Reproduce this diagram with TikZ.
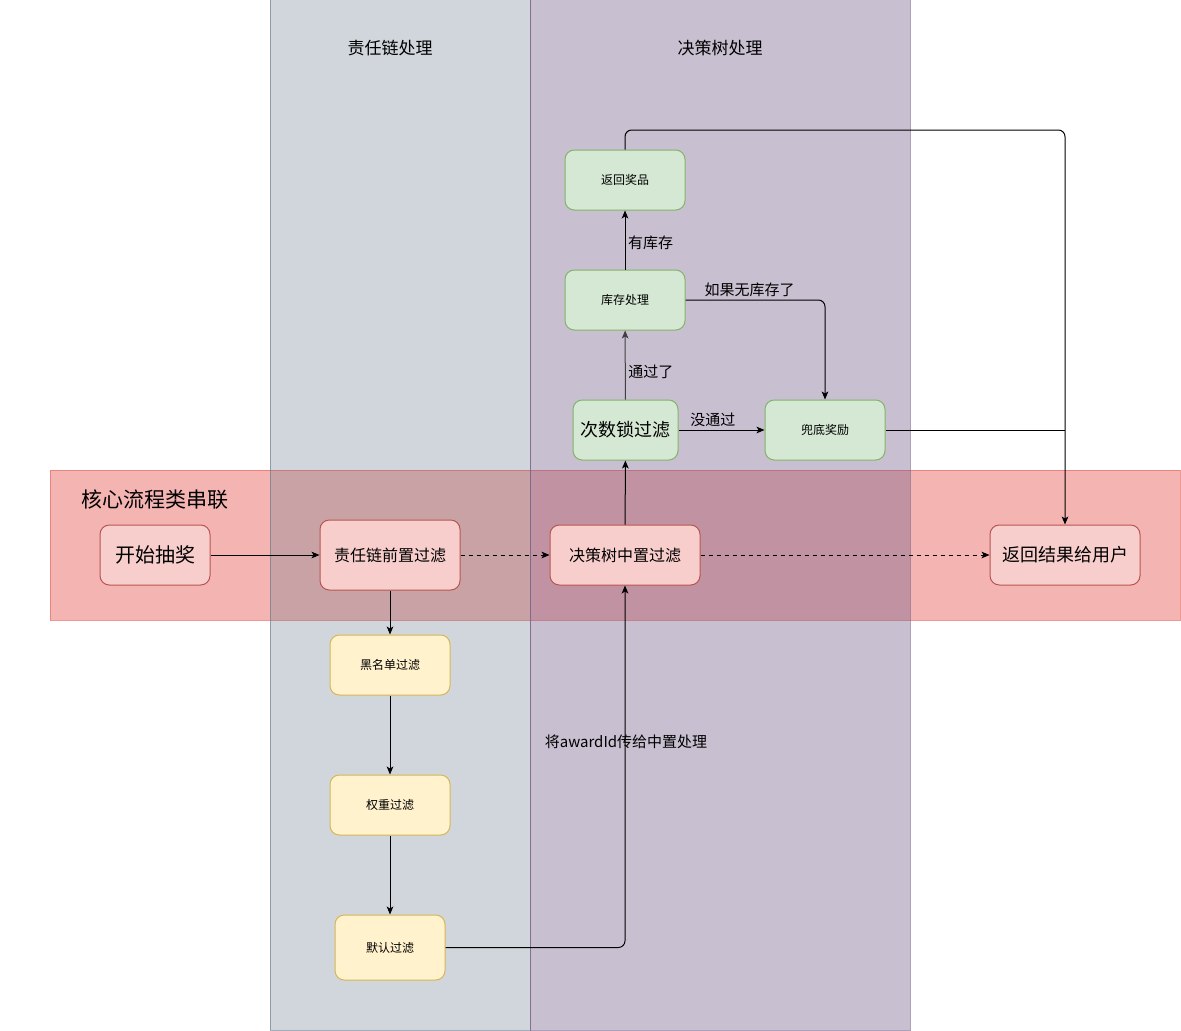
\documentclass[tikz,border=0pt]{standalone}
\usepackage{fontspec}
\setmainfont{Noto Sans CJK SC}
\usepackage{tikz}
\usetikzlibrary{shapes,arrows,arrows.meta,positioning}
\definecolor{LaneChain}{HTML}{647687}
\definecolor{LaneTree}{HTML}{76608A}
\definecolor{BandRed}{HTML}{EA6B66}
\definecolor{RedFill}{HTML}{F8CECC}
\definecolor{RedLine}{HTML}{B85450}
\definecolor{YellowFill}{HTML}{FFF2CC}
\definecolor{YellowLine}{HTML}{D6B656}
\definecolor{GreenFill}{HTML}{D5E8D4}
\definecolor{GreenLine}{HTML}{82B366}
\newcommand{\fsz}[1]{\fontsize{#1}{#1}\selectfont}

\begin{document}
\begin{tikzpicture}[
    x=0.75pt, y=-0.75pt,
    box/.style={rectangle, rounded corners=7pt, line width=0.75pt, align=center, inner sep=0pt},
    redbox/.style={box, fill=RedFill, draw=RedLine},
    yellowbox/.style={box, fill=YellowFill, draw=YellowLine, minimum width=90pt, minimum height=45pt, font=\fsz{9pt}},
    greenbox/.style={box, fill=GreenFill, draw=GreenLine, minimum width=90pt, minimum height=45pt, font=\fsz{9pt}},
    arrow/.style={-{Stealth[length=6pt, width=5pt, inset=1.5pt]}, line width=0.75pt},
    label/.style={font=\fsz{11.25pt}, inner sep=2pt}
]
\useasboundingbox (0,0) rectangle (1181,1031);

% === LANES ===
\filldraw[fill=BandRed, draw=BandRed, fill opacity=0.5, draw opacity=0.7, line width=0.75pt] (50,470) rectangle (1180,620);
\filldraw[fill=LaneChain, draw=LaneChain, fill opacity=0.3, draw opacity=0.6, line width=0.75pt] (270,0) rectangle (530,1030);
\filldraw[fill=LaneTree, draw=LaneTree, fill opacity=0.4, draw opacity=0.6, line width=0.75pt] (530,0) rectangle (910,1030);

\node[font=\fsz{12.75pt}] (chainTitle) at (390,48) {责任链处理};
\node[font=\fsz{12.75pt}] (treeTitle) at (720,48) {决策树处理};
\node[font=\fsz{15.75pt}] (bandTitle) at (155,500) {核心流程类串联};

% === MAIN FLOW ===
\node[redbox, minimum width=82.5pt, minimum height=45pt, font=\fsz{15pt}] (start) at (155,555) {开始抽奖};
\node[redbox, minimum width=105pt, minimum height=52.5pt, font=\fsz{12pt}] (chainPre) at (390,555) {责任链前置过滤};
\node[redbox, minimum width=112.5pt, minimum height=45pt, font=\fsz{12pt}] (treeMid) at (625,555) {决策树中置过滤};
\node[redbox, minimum width=112.5pt, minimum height=45pt, font=\fsz{13.5pt}] (result) at (1065,555) {返回结果给用户};

\draw[arrow] (start) -- (chainPre);
\draw[arrow, dashed] (chainPre) -- (treeMid);
\draw[arrow, dashed] (treeMid) -- (result);

% === CHAIN ===
\node[yellowbox] (black) at (390,665) {黑名单过滤};
\node[yellowbox] (weight) at (390,805) {权重过滤};
\node[yellowbox, minimum width=82.5pt, minimum height=48.75pt] (default) at (390,947.5) {默认过滤};

\draw[arrow] (chainPre) -- (black);
\draw[arrow] (black) -- (weight);
\draw[arrow] (weight) -- (default);
\draw[arrow, rounded corners=5pt] (default.east) -| (treeMid.south);
\node[label, inner sep=0pt] (passAward) at (626,742) {将awardId传给中置处理};

% === TREE ===
\node[greenbox, minimum width=78.75pt, font=\fsz{13.5pt}] (lock) at (625.5,430) {次数锁过滤};
\node[greenbox] (fallback) at (825,430) {兜底奖励};
\node[greenbox] (stock) at (625,300) {库存处理};
\node[greenbox] (award) at (625,180) {返回奖品};
\coordinate (turn) at (1065,130);

\draw[arrow] (treeMid) -- (lock);
\draw[arrow, black!75] (lock) -- node[label, right, pos=0.4, black] {通过了} (stock);
\draw[arrow] (lock) -- node[label, above, pos=0.4] {没通过} (fallback);
\draw[arrow] (stock) -- node[label, right, pos=0.45] {有库存} (award);
\draw[arrow, rounded corners=5pt] (stock.east) -| node[label, above, pos=0.23] {如果无库存了} (fallback.north);
\draw[arrow, rounded corners=5pt] (award.north) |- (turn) -- (result.north);
\draw[line width=0.75pt] (fallback.east) -- (fallback.east -| turn);

\end{tikzpicture}
\end{document}
